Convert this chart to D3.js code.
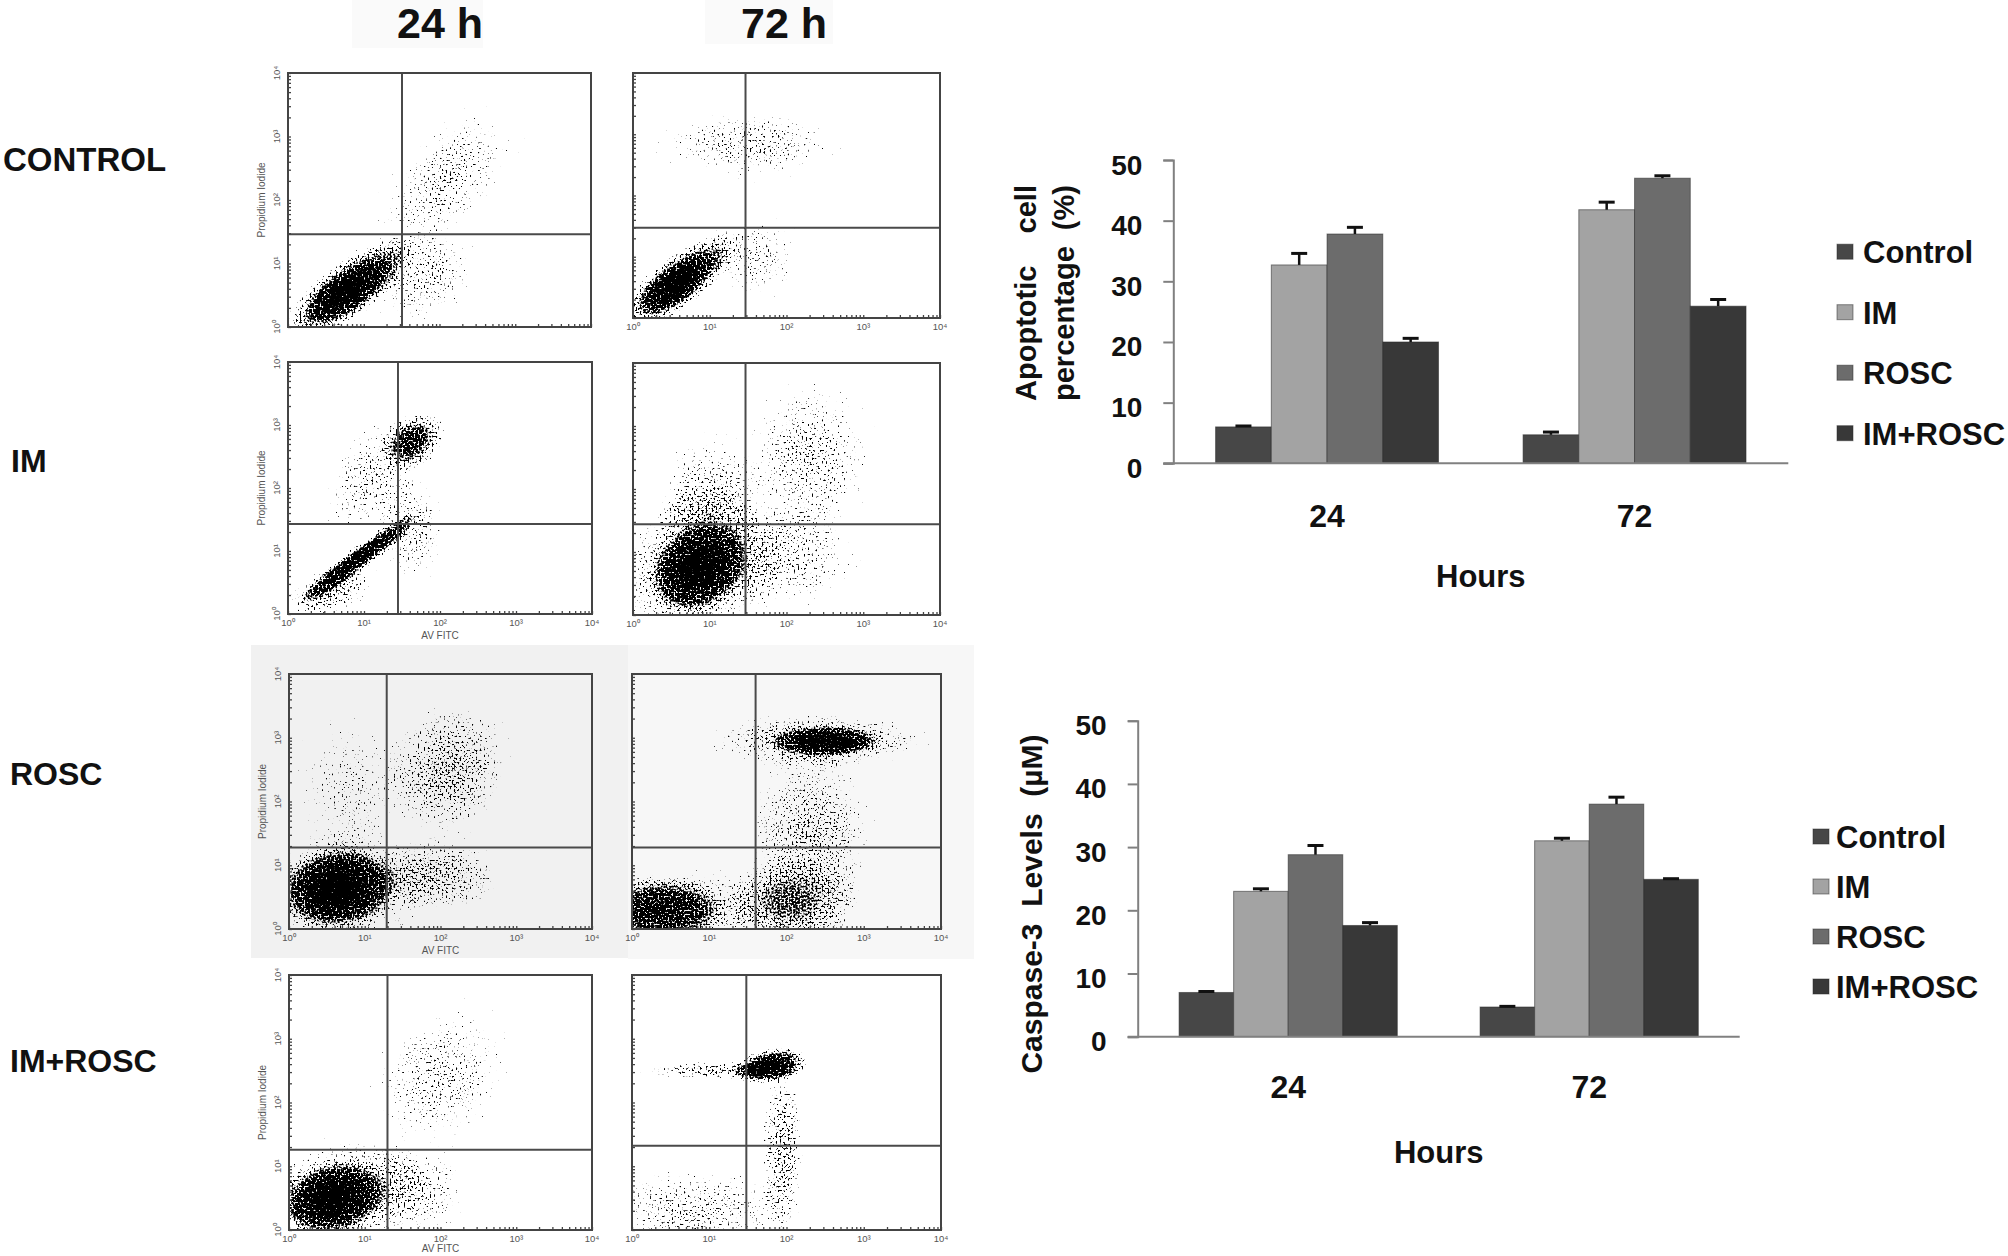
<!DOCTYPE html>
<html><head><meta charset="utf-8">
<script src="https://cdn.jsdelivr.net/npm/d3@7"></script>
<style>
body{margin:0;background:#fff}
svg{display:block}
text{font-family:"Liberation Sans",Arial,sans-serif}
</style>
</head><body>
<svg id="c" width="2008" height="1256"></svg>
<script>
// ===================== DATA =====================
const hours = ["24", "72"];
const groups = ["Control", "IM", "ROSC", "IM+ROSC"];
const yTicks = [0, 10, 20, 30, 40, 50];

// Apoptotic cell percentage (%)
const apoptosis24 = [6, 32.7, 37.8, 20];
const apoptosis72 = [4.7, 41.8, 47, 25.9];
const apoptosisErr24 = [0.15, 1.9, 1.1, 0.6];
const apoptosisErr72 = [0.45, 1.25, 0.4, 1.1];

// Caspase-3 levels (µM)
const caspase24 = [7, 23, 28.8, 17.6];
const caspase72 = [4.7, 31, 36.8, 24.9];
const caspaseErr24 = [0.15, 0.4, 1.45, 0.45];
const caspaseErr72 = [0.1, 0.4, 1.1, 0.1];

// flow cytometry panels (AV FITC vs Propidium Iodide, log10 decades 0..4)
const rowLabels = ["CONTROL", "IM", "ROSC", "IM+ROSC"];
const colLabels = ["24 h", "72 h"];
const decadeLabels = ["10\u2070", "10\u00b9", "10\u00b2", "10\u00b3", "10\u2074"];
const gateAV = [1.505, 1.466, 1.447, 1.466, 1.29, 1.60, 1.30, 1.48];
const gatePI = [1.46, 1.474, 1.43, 1.44, 1.28, 1.28, 1.257, 1.32];

// event populations: [AV centre, PI centre, AV spread, PI spread, correlation, density]
const popControl24 = [[0.8,0.6,0.35,0.33,0.75,0.95],[0.75,0.5,0.2,0.18,0.6,0.5],[2.1,2.3,0.4,0.5,0.6,0.31],[1.8,0.8,0.3,0.3,0.2,0.32]];
const popControl72 = [[0.6,0.6,0.31,0.32,0.75,0.95],[0.5,0.5,0.18,0.18,0.6,0.5],[1.5,2.85,0.5,0.25,0,0.32],[1.6,1.0,0.25,0.3,0,0.3]];
const popIM24 = [[0.95,0.9,0.34,0.31,0.95,0.95],[0.55,0.35,0.25,0.18,0.5,0.48],[1.65,2.76,0.18,0.19,0.3,0.7],[1.15,2.2,0.3,0.4,0.4,0.33],[1.65,1.3,0.2,0.35,0,0.31]];
const popIM72 = [[0.85,0.75,0.26,0.29,0.2,1.0],[0.85,0.8,0.45,0.5,0.2,0.5],[1.0,1.9,0.3,0.4,0,0.36],[2.3,2.5,0.35,0.55,0,0.33],[2.0,0.9,0.4,0.35,0,0.31]];
const popROSC24 = [[0.65,0.65,0.32,0.26,0.1,1.0],[0.7,0.6,0.5,0.4,0.1,0.48],[2.1,2.5,0.35,0.45,0.1,0.47],[2.0,0.85,0.35,0.25,0,0.44],[0.8,2.2,0.3,0.5,0,0.26]];
const popROSC72 = [[2.5,2.95,0.3,0.1,0,0.95],[2.4,2.95,0.6,0.18,0,0.48],[2.3,1.4,0.35,0.65,0,0.39],[0.35,0.3,0.35,0.22,0,0.8],[0.9,0.35,0.6,0.25,0,0.36],[2.1,0.4,0.35,0.3,0,0.44]];
const popIMROSC24 = [[0.57,0.5,0.29,0.24,0.2,1.0],[0.7,0.55,0.45,0.38,0.2,0.48],[2.0,2.4,0.4,0.5,0.2,0.31],[1.7,0.6,0.3,0.3,0,0.32]];
const popIMROSC72 = [[1.8,2.58,0.2,0.12,0.3,1.0],[1.2,2.5,0.45,0.06,0,0.47],[1.95,1.3,0.12,0.55,0,0.44],[0.8,0.3,0.6,0.3,0,0.31]];
const populations = [popControl24, popControl72, popIM24, popIM72, popROSC24, popROSC72, popIMROSC24, popIMROSC72];

// ===================== LAYOUT / STYLE =====================
const seriesColors = ["#474747", "#a3a3a3", "#6c6c6c", "#383838"];
const boxes = [
  {L:288,R:591,T:73,B:327},{L:633,R:940,T:73,B:318},
  {L:288,R:592,T:362,B:614},{L:633,R:940,T:363,B:615},
  {L:289,R:592,T:674,B:929},{L:632,R:941,T:674,B:929},
  {L:289,R:592,T:975,B:1230},{L:632,R:941,T:975,B:1230}];

const svg = d3.select("#c");
const defs = svg.append("defs");
const grad = defs.append("radialGradient").attr("id", "blob");
[[0,1],[0.25,0.92],[0.5,0.7],[0.75,0.4],[0.9,0.15],[1,0]].forEach(([o,a]) =>
  grad.append("stop").attr("offset", o).attr("stop-color", "#000").attr("stop-opacity", a));

// header faint boxes & titles
svg.append("rect").attr("x",352).attr("y",0).attr("width",131).attr("height",48).attr("fill","#fafafa");
svg.append("rect").attr("x",705).attr("y",0).attr("width",128).attr("height",44).attr("fill","#fafafa");
svg.selectAll("text.col").data(colLabels).enter().append("text")
  .attr("x", (d,i) => [440, 784][i]).attr("y", 38)
  .attr("text-anchor","middle").attr("font-size",43).attr("font-weight","bold").attr("fill","#111").text(d=>d);
svg.selectAll("text.row").data(rowLabels).enter().append("text")
  .attr("x", (d,i) => [3, 11, 10, 10][i]).attr("y", (d,i) => [171, 472, 785, 1072][i])
  .attr("font-size", (d,i)=> i===0 ? 33 : 32).attr("font-weight","bold").attr("fill","#111").text(d=>d);

// ROSC row grey backgrounds
svg.append("rect").attr("x",251).attr("y",645).attr("width",377).attr("height",313).attr("fill","#f1f1f1");
svg.append("rect").attr("x",628).attr("y",645).attr("width",346).attr("height",314).attr("fill","#f7f7f7");

function ellipseOf(c, x, y) {
  const [cx, cy, sx, sy, r, d] = c;
  const kx = (x.range()[1] - x.range()[0]) / 4;
  const ky = (y.range()[0] - y.range()[1]) / 4;
  const a = (sx*kx)**2, cc = (sy*ky)**2, b = -r*sx*sy*kx*ky;
  const m = (a+cc)/2, dd = Math.sqrt(((a-cc)/2)**2 + b*b);
  const l1 = m + dd, l2 = Math.max(m - dd, 0.5);
  const theta = 0.5*Math.atan2(2*b, a-cc)*180/Math.PI;
  return {px: x(10**cx), py: y(10**cy), rx: 2.6*Math.sqrt(l1), ry: 2.6*Math.sqrt(l2), theta, d};
}

const minorTicks = [];
for (let k = 0; k < 4; k++) for (let m = 1; m < 10; m++) minorTicks.push(m * 10**k);
minorTicks.push(1e4);

boxes.forEach((bx, i) => {
  const col = i % 2;
  const x = d3.scaleLog().domain([1, 1e4]).range([bx.L, bx.R]);
  const y = d3.scaleLog().domain([1, 1e4]).range([bx.B, bx.T]);
  const g = svg.append("g");
  const W = bx.R - bx.L, H = bx.B - bx.T;

  defs.append("clipPath").attr("id","clip"+i).append("rect")
    .attr("x",bx.L).attr("y",bx.T).attr("width",W).attr("height",H);
  const f = defs.append("filter").attr("id","sp"+i).attr("filterUnits","userSpaceOnUse")
    .attr("x",bx.L).attr("y",bx.T).attr("width",W).attr("height",H);
  f.append("feTurbulence").attr("type","fractalNoise").attr("baseFrequency",0.5)
    .attr("numOctaves",1).attr("seed",3+i*7).attr("result","n");
  f.append("feColorMatrix").attr("in","n").attr("type","matrix")
    .attr("values","0 0 0 0 0  0 0 0 0 0  0 0 0 0 0  1 0 0 0 0").attr("result","na");
  const ct = f.append("feComponentTransfer").attr("in","na").attr("result","ns");
  ct.append("feFuncA").attr("type","linear").attr("slope",1.6).attr("intercept",-0.3);
  f.append("feComposite").attr("in","SourceAlpha").attr("in2","ns").attr("operator","arithmetic")
    .attr("k1",0).attr("k2",8).attr("k3",8).attr("k4",-8);

  const cg = g.append("g").attr("clip-path",`url(#clip${i})`).append("g").attr("filter",`url(#sp${i})`);
  cg.append("rect").attr("x",bx.L).attr("y",bx.T).attr("width",W).attr("height",H).attr("fill","none");
  cg.selectAll("ellipse").data(populations[i].map(c => ellipseOf(c, x, y))).enter().append("ellipse")
    .attr("cx", d=>d.px).attr("cy", d=>d.py).attr("rx", d=>d.rx).attr("ry", d=>d.ry)
    .attr("transform", d=>`rotate(${d.theta},${d.px},${d.py})`)
    .attr("fill","url(#blob)").attr("fill-opacity", d=>d.d);

  // quadrant gates
  g.append("line").attr("x1", x(10**gateAV[i])).attr("x2", x(10**gateAV[i])).attr("y1",bx.T).attr("y2",bx.B)
    .attr("stroke","#4a4a4a").attr("stroke-width",2);
  g.append("line").attr("x1", bx.L).attr("x2", bx.R).attr("y1",y(10**gatePI[i])).attr("y2",y(10**gatePI[i]))
    .attr("stroke","#4a4a4a").attr("stroke-width",2);
  // frame
  g.append("rect").attr("x",bx.L).attr("y",bx.T).attr("width",W).attr("height",H)
    .attr("fill","none").attr("stroke","#444").attr("stroke-width",2);
  // ticks
  const ax = g.append("g").attr("transform",`translate(0,${bx.B})`)
    .call(d3.axisBottom(x).tickValues(minorTicks).tickSize(-3).tickFormat(""));
  const ay = g.append("g").attr("transform",`translate(${bx.L},0)`)
    .call(d3.axisLeft(y).tickValues(minorTicks).tickSize(-3).tickFormat(""));
  [ax, ay].forEach(a => { a.select(".domain").remove(); a.selectAll("line").attr("stroke","#444").attr("stroke-width",1.3); });

  const decades = [1, 10, 100, 1000, 10000];
  if (i !== 0) {
    g.selectAll("text.xt").data(decades).enter().append("text")
      .attr("x", d=>x(d)).attr("y", bx.B+12).attr("text-anchor","middle")
      .attr("font-size",9.5).attr("fill","#555").text((d,k)=>decadeLabels[k]);
  }
  if (col === 0 && i !== 0) {
    g.append("text").attr("x",(bx.L+bx.R)/2).attr("y",Math.min(bx.B+25, 1252)).attr("text-anchor","middle")
      .attr("font-size",10).attr("fill","#555").text("AV FITC");
  }
  if (col === 0) {
    g.selectAll("text.yt").data(decades).enter().append("text")
      .attr("transform", d=>`translate(${bx.L-8},${y(d)}) rotate(-90)`).attr("text-anchor","middle")
      .attr("font-size",9.5).attr("fill","#555").text((d,k)=>decadeLabels[k]);
    g.append("text").attr("transform",`translate(${bx.L-23},${(bx.T+bx.B)/2}) rotate(-90)`)
      .attr("text-anchor","middle").attr("font-size",10).attr("fill","#555").text("Propidium Iodide");
  }
});

// ===================== BAR CHARTS =====================
function barChart(o) {
  const g = svg.append("g");
  const x0 = d3.scaleBand().domain(hours).range([o.x0, o.x1]).paddingInner(0.275).paddingOuter(0.1375);
  const x1 = d3.scaleBand().domain(groups).range([0, x0.bandwidth()]);
  const y = d3.scaleLinear().domain([0, 50]).range([o.yb, o.yt]);
  const rows = hours.map((h, hi) => ({h, vals: o.vals[hi], errs: o.errs[hi]}));

  const gg = g.selectAll("g.grp").data(rows).enter().append("g")
    .attr("transform", d=>`translate(${x0(d.h)},0)`);
  gg.selectAll("rect").data(d=>d.vals.map((v,k)=>({k,v}))).enter().append("rect")
    .attr("x", d=>x1(groups[d.k])).attr("width", x1.bandwidth())
    .attr("y", d=>y(d.v)).attr("height", d=>y(0)-y(d.v))
    .attr("fill", d=>seriesColors[d.k]).attr("stroke","#2a2a2a").attr("stroke-opacity",0.55).attr("stroke-width",1);
  const eb = gg.selectAll("g.err").data(d=>d.vals.map((v,k)=>({k,v,e:d.errs[k]}))).enter().append("g");
  eb.append("line").attr("x1", d=>x1(groups[d.k])+x1.bandwidth()/2).attr("x2", d=>x1(groups[d.k])+x1.bandwidth()/2)
    .attr("y1", d=>y(d.v)).attr("y2", d=>y(d.v+d.e)).attr("stroke","#111").attr("stroke-width",2.5);
  eb.append("line").attr("x1", d=>x1(groups[d.k])+x1.bandwidth()/2-8).attr("x2", d=>x1(groups[d.k])+x1.bandwidth()/2+8)
    .attr("y1", d=>y(d.v+d.e)).attr("y2", d=>y(d.v+d.e)).attr("stroke","#111").attr("stroke-width",3);

  // axes
  const ya = g.append("g").attr("transform",`translate(${o.x0},0)`)
    .call(d3.axisLeft(y).tickValues(yTicks).tickSize(10).tickPadding(21));
  ya.select(".domain").attr("stroke","#808080").attr("stroke-width",2);
  ya.selectAll(".tick line").attr("stroke","#808080").attr("stroke-width",2);
  ya.selectAll(".tick text").attr("font-size",28).attr("font-weight","bold").attr("fill","#111")
    .attr("dy","0.5em").attr("font-family","Liberation Sans, Arial, sans-serif");
  g.append("line").attr("x1",o.x0-10).attr("x2",o.x1).attr("y1",y(0)).attr("y2",y(0))
    .attr("stroke","#808080").attr("stroke-width",2);

  g.selectAll("text.xl").data(hours).enter().append("text")
    .attr("x", d=>x0(d)+x0.bandwidth()/2).attr("y", o.xlabY).attr("text-anchor","middle")
    .attr("font-size",32).attr("font-weight","bold").attr("fill","#111").text(d=>d);
  g.append("text").attr("x",(o.x0+o.x1)/2).attr("y",o.hoursY).attr("text-anchor","middle")
    .attr("font-size",31).attr("font-weight","bold").attr("fill","#111").text("Hours");

  o.title.forEach((t, k) => {
    g.append("text").attr("transform",`translate(${o.titleX[k]},${o.titleY}) rotate(-90)`)
      .attr("text-anchor","middle").attr("font-size",o.titleSize).attr("font-weight","bold")
      .attr("fill","#111").attr("xml:space","preserve").style("white-space","pre").text(t);
  });

  const lg = g.selectAll("g.leg").data(groups).enter().append("g")
    .attr("transform",(d,k)=>`translate(${o.legX},${o.legY + k*o.legStep})`);
  lg.append("rect").attr("x",0).attr("y",-7.5).attr("width",16).attr("height",15)
    .attr("fill",(d,k)=>seriesColors[k]).attr("stroke","#2a2a2a").attr("stroke-opacity",0.5);
  lg.append("text").attr("x",o.legTextDx).attr("y",11.5).attr("font-size",31).attr("font-weight","bold")
    .attr("fill","#111").text(d=>d);
}

barChart({x0:1173.3, x1:1788.3, yb:463.3, yt:160,
  vals:[apoptosis24, apoptosis72], errs:[apoptosisErr24, apoptosisErr72],
  xlabY:527, hoursY:587,
  title:["Apoptotic    cell", "percentage  (%)"], titleX:[1036,1074], titleY:293, titleSize:29,
  legX:1837, legY:251.7, legStep:60.5, legTextDx:26});

barChart({x0:1137.7, x1:1739.7, yb:1036.7, yt:720.7,
  vals:[caspase24, caspase72], errs:[caspaseErr24, caspaseErr72],
  xlabY:1098, hoursY:1163,
  title:["Caspase-3  Levels  (\u00b5M)"], titleX:[1041.5], titleY:904, titleSize:30,
  legX:1813, legY:836.5, legStep:50, legTextDx:23});
</script>
</body></html>
